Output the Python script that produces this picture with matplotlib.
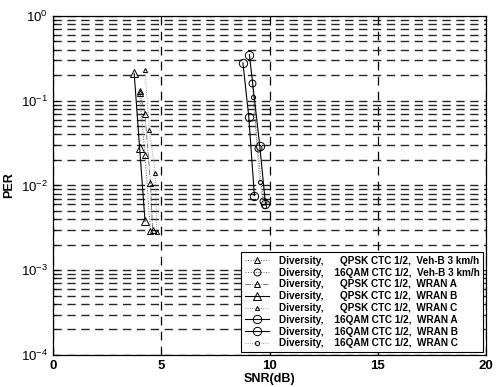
import numpy as np
import matplotlib
matplotlib.use("Agg")
import matplotlib.pyplot as plt

# ---- PER curves (diversity, CTC 1/2) ----
snr_qpsk_vehb = [4.0, 4.25, 4.5]
per_qpsk_vehb = [0.124, 0.023, 0.0029]

snr_16qam_vehb = [9.2, 9.45, 9.7]
per_16qam_vehb = [0.16, 0.028, 0.0065]

snr_qpsk_a = [4.0, 4.25, 4.5, 4.6]
per_qpsk_a = [0.13, 0.069, 0.0108, 0.0030]

snr_qpsk_b = [3.75, 4.0, 4.25]
per_qpsk_b = [0.21, 0.028, 0.0038]

snr_qpsk_c = [4.25, 4.45, 4.72, 4.8]
per_qpsk_c = [0.23, 0.045, 0.014, 0.0028]

snr_16qam_a = [8.77, 9.04, 9.3]
per_16qam_a = [0.28, 0.065, 0.0076]

snr_16qam_b = [9.07, 9.55, 9.81]
per_16qam_b = [0.35, 0.029, 0.0061]

snr_16qam_c = [9.25, 9.54, 9.75]
per_16qam_c = [0.11, 0.011, 0.0058]

labels = [
    "Diversity,      QPSK CTC 1/2,  Veh-B 3 km/h",
    "Diversity,    16QAM CTC 1/2,  Veh-B 3 km/h",
    "Diversity,      QPSK CTC 1/2,  WRAN A",
    "Diversity,      QPSK CTC 1/2,  WRAN B",
    "Diversity,      QPSK CTC 1/2,  WRAN C",
    "Diversity,    16QAM CTC 1/2,  WRAN A",
    "Diversity,    16QAM CTC 1/2,  WRAN B",
    "Diversity,    16QAM CTC 1/2,  WRAN C",
]

plt.rcParams["font.family"] = ["Liberation Sans", "DejaVu Sans"]
plt.rcParams["mathtext.fontset"] = "custom"
plt.rcParams["mathtext.rm"] = "Liberation Sans:bold"
plt.rcParams["mathtext.it"] = "Liberation Sans:bold"

fig = plt.figure(figsize=(4.97, 3.87), dpi=100)
ax = fig.add_axes([0.1066, 0.0827, 0.8715, 0.876])

k = "black"
mk = dict(markerfacecolor="none", markeredgecolor=k, markeredgewidth=0.7)
ax.semilogy(snr_qpsk_vehb, per_qpsk_vehb, ":", color="0.35", lw=0.7, marker="^", ms=5, **mk, label=labels[0])
ax.semilogy(snr_16qam_vehb, per_16qam_vehb, ":", color="0.35", lw=0.7, marker="o", ms=5, **mk, label=labels[1])
ax.semilogy(snr_qpsk_a, per_qpsk_a, "-.", color="0.4", lw=0.6, marker="^", ms=5, **mk, label=labels[2])
ax.semilogy(snr_qpsk_b, per_qpsk_b, "-", color=k, lw=0.8, marker="^", ms=6, **mk, label=labels[3])
ax.semilogy(snr_qpsk_c, per_qpsk_c, ":", color="0.5", lw=0.6, marker="^", ms=3, **mk, label=labels[4])
ax.semilogy(snr_16qam_a, per_16qam_a, "-", color=k, lw=0.8, marker="o", ms=6, **mk, label=labels[5])
ax.semilogy(snr_16qam_b, per_16qam_b, "-", color=k, lw=0.8, marker="o", ms=6, **mk, label=labels[6])
ax.semilogy(snr_16qam_c, per_16qam_c, ":", color="0.5", lw=0.6, marker="o", ms=3, **mk, label=labels[7])

ax.set_xlim(0, 20)
ax.set_ylim(1e-4, 1)
ax.set_xticks([0, 5, 10, 15, 20])
ax.set_yticks([1e-4, 1e-3, 1e-2, 1e-1, 1])

# dashed grid on every decade subdivision
ax.grid(True, which="major", axis="x", color=k, linestyle=(0, (7, 5)), lw=0.9)
ax.grid(True, which="both", axis="y", color="0.15", linestyle=(0, (6, 4)), lw=1.0)
ax.set_axisbelow(True)

ax.tick_params(which="both", direction="in", labelsize=9.5, width=0.8)
ax.tick_params(which="major", length=4)
ax.tick_params(which="minor", length=2)
for lab in ax.get_xticklabels():
    lab.set_fontweight("bold")
for sp in ax.spines.values():
    sp.set_linewidth(0.9)

ax.set_xlabel("SNR(dB)", fontsize=9, fontweight="bold", labelpad=1)
ax.set_ylabel("PER", fontsize=9, fontweight="bold", labelpad=4)

leg = ax.legend(loc="lower right", bbox_to_anchor=(1.0, 0.0), fontsize=7.2,
                frameon=True, fancybox=False, edgecolor=k, framealpha=1,
                borderaxespad=0.3, handlelength=2.4, handletextpad=1.0,
                labelspacing=0.18, borderpad=0.35)
leg.get_frame().set_linewidth(0.8)
for t in leg.get_texts():
    t.set_fontweight("bold")

fig.savefig("out.png", dpi=100, facecolor="white")
